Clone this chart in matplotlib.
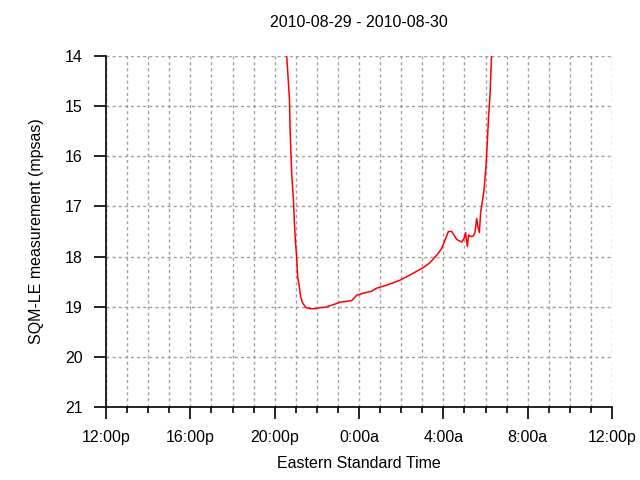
import matplotlib
matplotlib.use("Agg")
import matplotlib.pyplot as plt
from matplotlib.ticker import MultipleLocator, FixedLocator

plt.rcParams['font.family'] = ['Liberation Sans', 'DejaVu Sans']

# hours since 12:00p on 2010-08-29
hours = [8.45, 8.57, 8.70, 8.73, 8.81, 8.89, 8.93, 8.98, 9.04, 9.09, 9.17, 9.23,
         9.33, 9.49, 9.70, 9.91, 10.15, 10.39, 10.71, 11.10, 11.65, 11.89, 12.05,
         12.60, 12.84, 13.31, 13.95, 14.58, 15.05, 15.37, 15.69, 15.92, 16.08,
         16.24, 16.40, 16.64, 16.87, 16.98, 17.06, 17.08, 17.14, 17.20, 17.29,
         17.42, 17.50, 17.58, 17.64, 17.71, 17.77, 17.85, 17.93, 18.03, 18.09,
         18.15, 18.22, 18.28, 18.40]
mpsas = [12.80, 14.00, 14.84, 15.44, 16.37, 16.87, 17.27, 17.67, 18.00, 18.40,
         18.60, 18.80, 18.93, 19.02, 19.04, 19.04, 19.02, 19.01, 18.97, 18.91,
         18.88, 18.77, 18.75, 18.69, 18.63, 18.57, 18.47, 18.33, 18.22, 18.12,
         17.97, 17.84, 17.67, 17.50, 17.50, 17.66, 17.71, 17.64, 17.52, 17.62,
         17.80, 17.57, 17.60, 17.59, 17.52, 17.24, 17.40, 17.52, 17.11, 16.91,
         16.67, 16.17, 15.68, 15.18, 14.74, 14.08, 12.80]

xtick_pos = [0, 4, 8, 12, 16, 20, 24]
xtick_labels = ['12:00p', '16:00p', '20:00p', '0:00a', '4:00a', '8:00a', '12:00p']
yticks = [14, 15, 16, 17, 18, 19, 20, 21]

FS = 11.5

fig = plt.figure(figsize=(6.4, 4.8), dpi=100)
ax = fig.add_axes([106/640, 1-407/480, (612-106)/640, (407-56)/480])

ax.plot(hours, mpsas, color='red', linewidth=1.1)

ax.set_xlim(0, 24)
ax.set_ylim(21, 14)
ax.xaxis.set_major_locator(FixedLocator(xtick_pos))
ax.set_xticklabels(xtick_labels)
ax.xaxis.set_minor_locator(MultipleLocator(1))
ax.set_yticks(yticks)

for s in ['top', 'right']:
    ax.spines[s].set_visible(False)
for s in ['left', 'bottom']:
    ax.spines[s].set_linewidth(1.2)

ax.tick_params(axis='both', which='major', length=8.6, width=1.2, pad=8,
               labelsize=FS, direction='out')
ax.tick_params(axis='x', which='minor', length=4.3, width=1.2)

grid_kw = dict(color='#a0a0a0', linestyle=(0, (2.2, 2.2)), linewidth=1.0)
ax.grid(True, which='major', axis='y', **grid_kw)
ax.grid(True, which='both', axis='x', **grid_kw)
ax.set_axisbelow(True)

ax.set_xlabel('Eastern Standard Time', fontsize=FS, labelpad=8)
ax.set_ylabel('SQM-LE measurement (mpsas)', fontsize=FS, labelpad=15)
ax.set_title('2010-08-29 - 2010-08-30', fontsize=FS, pad=21)

fig.savefig('out.png', dpi=100)
